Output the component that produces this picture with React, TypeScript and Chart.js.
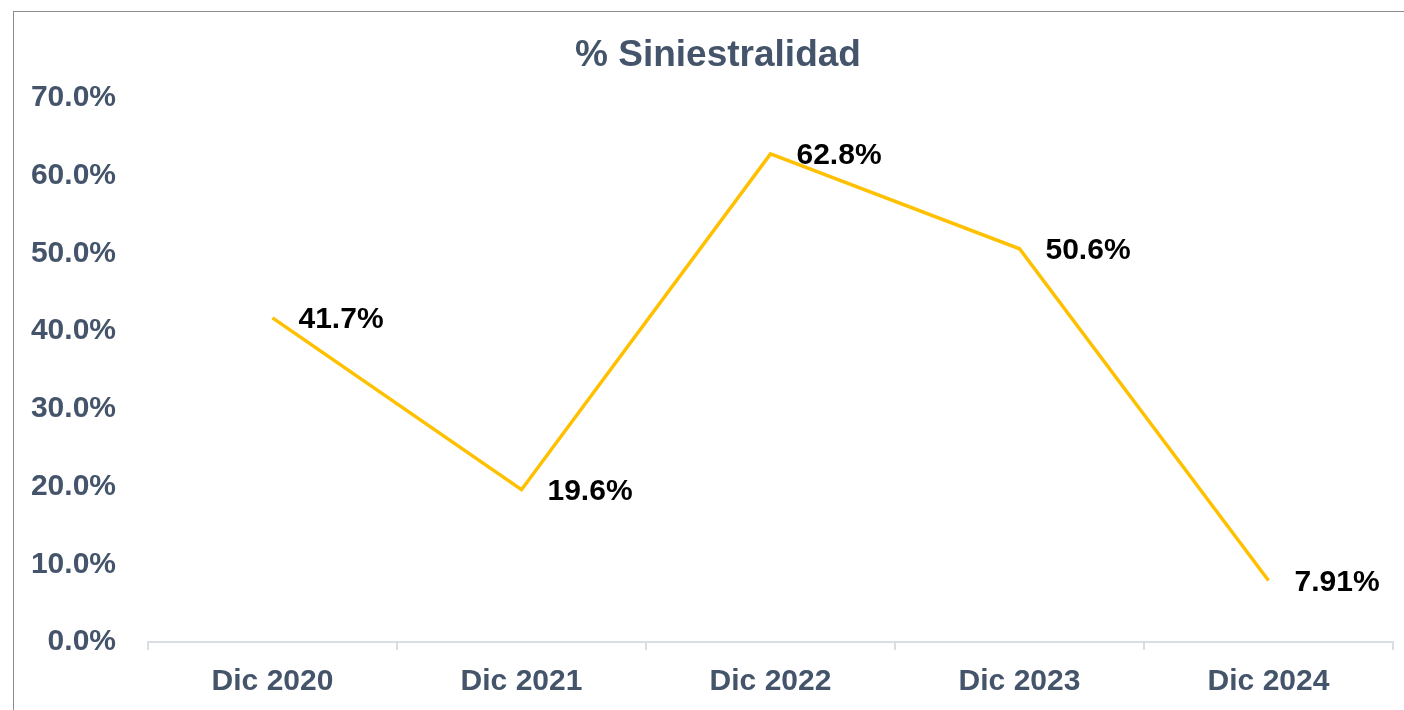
import React, { useEffect, useRef } from "react";
import { Chart, registerables } from "chart.js";

Chart.register(...registerables);

const categories = ["Dic 2020", "Dic 2021", "Dic 2022", "Dic 2023", "Dic 2024"];
const siniestralidad = [41.7, 19.6, 62.8, 50.6, 7.91];
const valueLabels = ["41.7%", "19.6%", "62.8%", "50.6%", "7.91%"];
const yTicks = [0, 10, 20, 30, 40, 50, 60, 70];
const titleText = "% Siniestralidad";

const SLATE = "#44546A";
const FONT = "'Liberation Sans', Arial, sans-serif";

const overlayPlugin = {
  id: "overlay",
  afterDatasetsDraw(chart: any) {
    const ctx = chart.ctx;
    const meta = chart.getDatasetMeta(0);
    ctx.save();
    ctx.font = `bold 30px ${FONT}`;
    ctx.fillStyle = "#000000";
    ctx.textAlign = "left";
    ctx.textBaseline = "middle";
    meta.data.forEach((pt: any, i: number) => {
      ctx.fillText(valueLabels[i], pt.x + 26, pt.y + 2);
    });
    ctx.font = `bold 37px ${FONT}`;
    ctx.fillStyle = SLATE;
    ctx.textAlign = "center";
    ctx.fillText(titleText, 718, 56);
    ctx.restore();
  },
};

export default function App() {
  const ref = useRef<HTMLCanvasElement>(null);
  useEffect(() => {
    if (!ref.current) return;
    const chart = new Chart(ref.current, {
      type: "line",
      data: {
        labels: categories,
        datasets: [
          {
            data: siniestralidad,
            borderColor: "#FFC000",
            borderWidth: 3.5,
            pointRadius: 0,
            tension: 0,
            fill: false,
          },
        ],
      },
      options: {
        animation: false,
        responsive: false,
        maintainAspectRatio: false,
        layout: { padding: { top: 98, right: 11, left: 0, bottom: 0 } },
        plugins: {
          legend: { display: false },
          tooltip: { enabled: false },
          title: { display: false },
        },
        scales: {
          x: {
            offset: true,
            grid: {
              display: true,
              drawOnChartArea: false,
              drawTicks: true,
              tickLength: 8,
              color: "#D9DEE5",
              lineWidth: 2,
              offset: true,
            },
            border: { display: true, color: "#D9DEE5", width: 2 },
            ticks: {
              color: SLATE,
              font: { family: FONT, size: 30, weight: "bold" },
              padding: 14,
              maxRotation: 0,
            },
            afterFit: (s: any) => {
              s.height = 68;
            },
          },
          y: {
            min: 0,
            max: 70,
            afterBuildTicks: (s: any) => {
              s.ticks = yTicks.map((v) => ({ value: v }));
            },
            grid: { display: false, drawTicks: false },
            border: { display: false },
            ticks: {
              color: SLATE,
              font: { family: FONT, size: 30, weight: "bold" },
              padding: 32,
              callback: (v: any) => Number(v).toFixed(1) + "%",
            },
            afterFit: (s: any) => {
              s.width = 148;
            },
          },
        },
      },
      plugins: [overlayPlugin],
    });
    return () => chart.destroy();
  }, []);

  return (
    <div style={{ position: "fixed", left: 0, top: 0, width: 1404, height: 710, background: "#fff" }}>
      <canvas ref={ref} width={1404} height={710} style={{ position: "absolute", left: 0, top: 0 }} />
      <div
        style={{
          position: "absolute",
          left: 13,
          top: 11,
          width: 1420,
          height: 720,
          borderLeft: "1.5px solid #8C8C8C",
          borderTop: "1.5px solid #8C8C8C",
          pointerEvents: "none",
        }}
      />
    </div>
  );
}
